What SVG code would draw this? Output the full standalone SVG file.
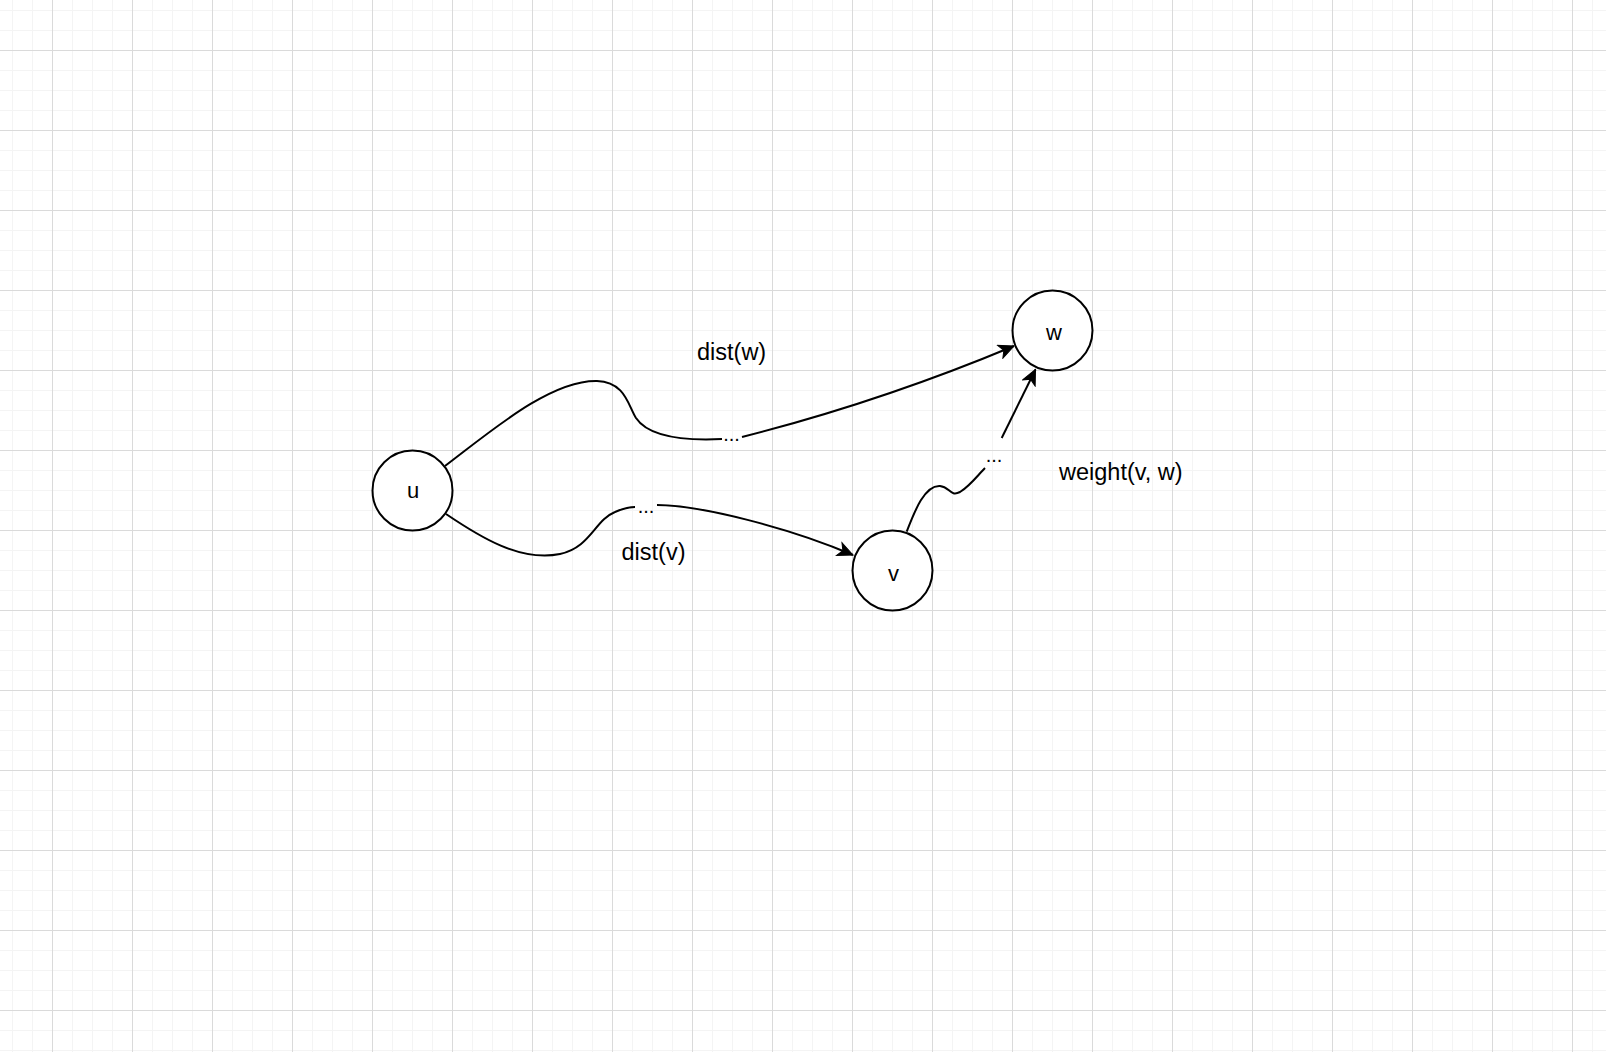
<svg xmlns="http://www.w3.org/2000/svg" width="1606" height="1052" viewBox="0 0 1606 1052">
  <style>
    .node { fill: #ffffff; stroke: #000000; stroke-width: 2; }
    .nlabel { font-family: "Liberation Sans", Arial, sans-serif; font-size: 22px; fill: #000000; text-anchor: middle; }
    .elabel { font-family: "Liberation Sans", Arial, sans-serif; font-size: 23.5px; fill: #000000; }
    .dots { font-family: "Liberation Sans", Arial, sans-serif; font-size: 20px; fill: #000000; text-anchor: middle; }
    .edge { fill: none; stroke: #000000; stroke-width: 2; }
  </style>
  <defs>
    <pattern id="grid" patternUnits="userSpaceOnUse" x="52" y="50" width="80" height="80">
      <rect x="0" y="0" width="80" height="80" fill="#ffffff"/>
      <rect x="20" y="0" width="1" height="80" fill="#f4f4f4"/>
      <rect x="40" y="0" width="1" height="80" fill="#f4f4f4"/>
      <rect x="60" y="0" width="1" height="80" fill="#f4f4f4"/>
      <rect x="0" y="20" width="80" height="1" fill="#f4f4f4"/>
      <rect x="0" y="40" width="80" height="1" fill="#f4f4f4"/>
      <rect x="0" y="60" width="80" height="1" fill="#f4f4f4"/>
      <rect x="0" y="0" width="1" height="80" fill="#dadada"/>
      <rect x="0" y="0" width="80" height="1" fill="#dadada"/>
    </pattern>
    <marker id="arrow" viewBox="-16 -8 17 16" refX="0" refY="0" markerWidth="17" markerHeight="16" markerUnits="userSpaceOnUse" orient="auto">
      <path d="M0,0 L-15,-7 L-11,0 L-15,7 Z" fill="#000000" stroke="#000000" stroke-width="1" stroke-linejoin="miter"/>
    </marker>
  </defs>
  <rect x="0" y="0" width="1606" height="1052" fill="url(#grid)"/>

  <g id="connectors">
    <g id="edge-u-w">
      <path class="edge" d="M445,466 C490,432 550,380 597,381 C625,382 628,405 636,418 C648,436 680,441 722,439"/>
      <path class="edge" d="M742,437 Q880,402 1014,346" marker-end="url(#arrow)"/>
      <text class="dots" x="731.5" y="441">...</text>
      <text class="elabel" x="697" y="359.5">dist(w)</text>
    </g>
    <g id="edge-u-v">
      <path class="edge" d="M446,514 C480,537 520,562 560,554 C590,548 595,520 615,512 C622,509 628,507 635,507"/>
      <path class="edge" d="M657,505 C700,505 790,528 853,555" marker-end="url(#arrow)"/>
      <text class="dots" x="646" y="513">...</text>
      <text class="elabel" x="621.5" y="560">dist(v)</text>
    </g>
    <g id="edge-v-w">
      <path class="edge" d="M906.7,531.7 C915,510 925,485 940,486 C950,487 950,497 960,492 C970,486 978,475 985,468"/>
      <path class="edge" d="M1001.7,438 L1035.5,369.5" marker-end="url(#arrow)"/>
      <text class="dots" x="994" y="462">...</text>
      <text class="elabel" x="1059" y="480">weight(v, w)</text>
    </g>
  </g>

  <g id="node-u">
    <circle class="node" cx="412.5" cy="490.5" r="40"/>
    <text class="nlabel" x="413" y="497.5">u</text>
  </g>
  <g id="node-w">
    <circle class="node" cx="1052.5" cy="330.5" r="40"/>
    <text class="nlabel" x="1054" y="339.5">w</text>
  </g>
  <g id="node-v">
    <circle class="node" cx="892.5" cy="570.5" r="40"/>
    <text class="nlabel" x="893.5" y="580.5">v</text>
  </g>
</svg>
